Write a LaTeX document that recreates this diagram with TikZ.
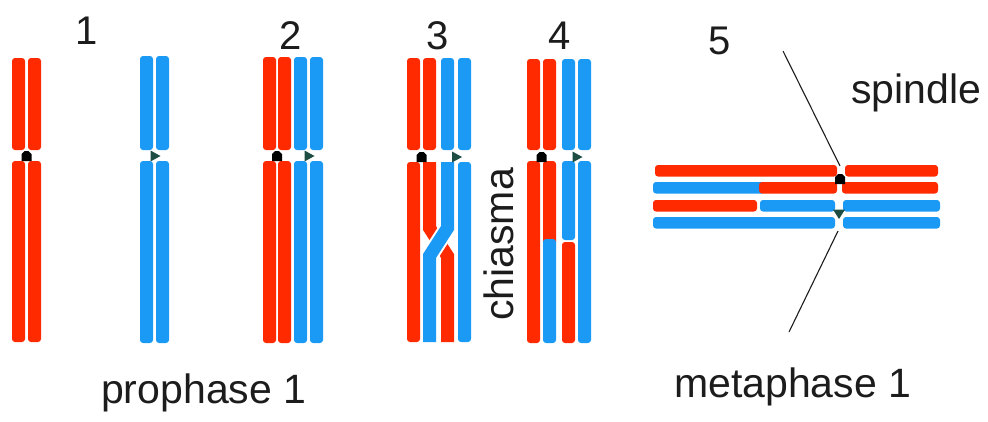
\documentclass[tikz,border=0pt]{standalone}
\usepackage{fontspec}
\setmainfont{Liberation Sans}
\begin{document}
\definecolor{chred}{HTML}{FF2A00}
\definecolor{chblue}{HTML}{1A9AF5}
\definecolor{cengreen}{HTML}{1E4D44}
\definecolor{ink}{HTML}{1C1C1C}
\begin{tikzpicture}[x=1pt,y=-1pt,
  arm/.style={rounded corners=3pt},
  crossarm/.style={line width=13pt,line cap=butt,line join=miter},
  lbl/.style={inner sep=0pt,text=ink,font=\fontsize{41}{45}\selectfont},
  num/.style={inner sep=0pt,text=ink,font=\fontsize{40}{44}\selectfont},
  spindleline/.style={line width=1.1pt,ink}]
\useasboundingbox (0,0) rectangle (988,421);

% vertical chromatid arm: x-left, y-top, y-bottom, colour
\newcommand\varm[4]{\fill[#4,arm] (#1,#2) rectangle (#1+13,#3);}
% horizontal chromatid arm: x-left, x-right, y-top, colour
\newcommand\harm[4]{\fill[#4,arm] (#1,#3) rectangle (#2,#3+11.5);}
% centromeres
\newcommand\blackcen[2]{\fill[black] (#1-5,#2-2) -- (#1-2,#2-5) -- (#1+2,#2-5) -- (#1+5,#2-2) -- (#1+5,#2+5) -- (#1-5,#2+5) -- cycle;}
\newcommand\greencen[2]{\fill[cengreen] (#1-4,#2-5.5) -- (#1+6,#2) -- (#1-4,#2+5.5) -- cycle;}

% ---- 1: single red and blue chromosomes
\foreach \x in {12,28}{\varm{\x}{58}{150}{chred}\varm{\x}{161}{342}{chred}}
\blackcen{26.5}{156}
\foreach \x in {140,156}{\varm{\x}{56}{150}{chblue}\varm{\x}{161}{343}{chblue}}
\greencen{154.5}{156}

% ---- 2: paired homologues
\foreach \x in {263,278}{\varm{\x}{57}{150}{chred}\varm{\x}{161}{343}{chred}}
\foreach \x in {294,310}{\varm{\x}{57}{150}{chblue}\varm{\x}{161}{343}{chblue}}
\blackcen{277}{156}
\greencen{308.5}{156}

% ---- 3: crossing over
\foreach \x in {407,423}{\varm{\x}{58}{150}{chred}}
\foreach \x in {441,458}{\varm{\x}{58}{150}{chblue}}
\varm{407}{162}{342}{chred}
\varm{458}{162}{342}{chblue}
\draw[crossarm,chred] (429.5,162) -- (429.5,228) -- (447.5,256) -- (447.5,342);
\draw[line width=17pt,line cap=butt,white] (447.5,222) -- (447.5,228) -- (429.5,256) -- (429.5,262);
\draw[crossarm,chblue] (447.5,162) -- (447.5,228) -- (429.5,256) -- (429.5,342);
\blackcen{421.5}{157}
\greencen{456}{157}
\node[lbl,rotate=90,anchor=base west] (chi) at (513,321) {chiasma};

% ---- 4: recombined chromatids
\varm{527}{59}{150}{chred}\varm{543}{59}{150}{chred}
\varm{562}{59}{150}{chblue}\varm{578}{59}{150}{chblue}
\varm{527}{161}{343}{chred}
\fill[chred,arm] (543,161) rectangle (556,245);
\fill[chblue,arm] (543,239) rectangle (556,343);
\fill[chblue,arm] (562,161) rectangle (575,240);
\fill[chred,arm] (562,242) rectangle (575,343);
\varm{578}{161}{343}{chblue}
\blackcen{541.5}{157}
\greencen{576.5}{157}

% ---- 5: bivalent on the metaphase plate
\harm{655}{837}{165}{chred}\harm{845}{938}{165}{chred}
\harm{653}{765}{182}{chblue}\harm{759}{837}{182}{chred}\harm{842}{938}{182}{chred}
\harm{653}{757}{200}{chred}\harm{760}{835}{200}{chblue}\harm{843}{940}{200}{chblue}
\harm{653}{835}{217}{chblue}\harm{843}{940}{217}{chblue}
\blackcen{840}{179}
\fill[cengreen] (833,209.5) -- (845,209.5) -- (839,219) -- cycle;
\coordinate (cenA) at (840,166);
\coordinate (cenB) at (838,231);
\coordinate (poleA) at (783,51);
\coordinate (poleB) at (789,332);
\draw[spindleline] (poleA) -- (cenA);
\draw[spindleline] (cenB) -- (poleB);

% ---- labels
\node[num] (n1) at (87,31) {1};
\node[num] (n2) at (291,36) {2};
\node[num] (n3) at (438,36) {3};
\node[num] (n4) at (560,36) {4};
\node[num] (n5) at (720,41) {5};
\node[lbl,anchor=base west] (spin) at (851,103) {spindle};
\node[lbl,anchor=base west] (pro) at (101,403) {prophase 1};
\node[lbl,anchor=base west] (meta) at (674,397) {metaphase 1};
\end{tikzpicture}
\end{document}
